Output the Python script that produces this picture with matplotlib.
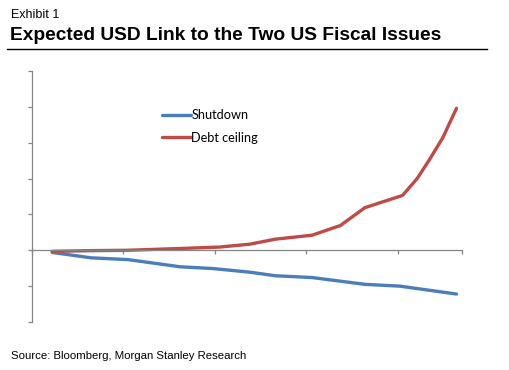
import matplotlib
matplotlib.use("Agg")
import matplotlib.pyplot as plt

# x positions in tick-interval units (ticks at 0..4), values in chart units
debt_x = [0.22, 0.63, 1.04, 1.62, 2.05, 2.38, 2.66, 3.06, 3.37, 3.64, 4.05, 4.21, 4.35, 4.49, 4.64]
debt_y = [-0.03, -0.01, 0.0, 0.05, 0.09, 0.17, 0.31, 0.42, 0.69, 1.19, 1.53, 2.0, 2.55, 3.14, 3.96]

shut_x = [0.22, 0.645, 1.05, 1.62, 1.98, 2.38, 2.66, 3.06, 3.64, 4.02, 4.64]
shut_y = [-0.06, -0.21, -0.26, -0.46, -0.51, -0.61, -0.71, -0.76, -0.95, -1.0, -1.22]

x_ticks = [0, 1, 2, 3, 4, 4.7]
y_ticks = [-2, -1, 0, 1, 2, 3, 4, 5]

blue = "#4a7ebb"
red = "#be4b48"
axis_grey = "#868686"

fig = plt.figure(figsize=(5.1, 3.7), dpi=100)
ax = fig.add_axes([32 / 510, 48 / 370, 430 / 510, 251 / 370])

ax.plot(shut_x, shut_y, color=blue, lw=2.4, label="Shutdown", solid_capstyle="round")
ax.plot(debt_x, debt_y, color=red, lw=2.4, label="Debt ceiling", solid_capstyle="round")

ax.set_xlim(0, 4.7)
ax.set_ylim(-2, 5)
ax.set_xticks(x_ticks)
ax.set_yticks(y_ticks)
ax.set_xticklabels([])
ax.set_yticklabels([])

ax.spines["top"].set_visible(False)
ax.spines["right"].set_visible(False)
ax.spines["bottom"].set_position(("data", 0))
for s in ("left", "bottom"):
    ax.spines[s].set_color(axis_grey)
    ax.spines[s].set_linewidth(0.9)
ax.tick_params(axis="both", direction="out", length=3, width=0.9, color=axis_grey)

leg = ax.legend(loc="upper left", bbox_to_anchor=(130 / 430, 1 - 38 / 251),
                frameon=False, prop={"family": "Lato", "size": 9.2},
                handlelength=2.3, handletextpad=0.0, labelspacing=0.85,
                borderaxespad=0, borderpad=0)

fig.text(11 / 510, 1 - 15 / 370, "Exhibit 1", family="Liberation Sans",
         fontsize=9, va="center", ha="left")
fig.text(10 / 510, 1 - 35 / 370, "Expected USD Link to the Two US Fiscal Issues",
         family="Liberation Sans", fontsize=13.8, fontweight="bold",
         va="center", ha="left")
fig.add_artist(plt.Line2D([7 / 510, 487 / 510], [1 - 49 / 370, 1 - 49 / 370],
                          color="black", lw=1.0))
fig.text(11 / 510, 1 - 356 / 370, "Source: Bloomberg, Morgan Stanley Research",
         family="Liberation Sans", fontsize=8.2, va="center", ha="left")

fig.savefig("out.png", dpi=100)
